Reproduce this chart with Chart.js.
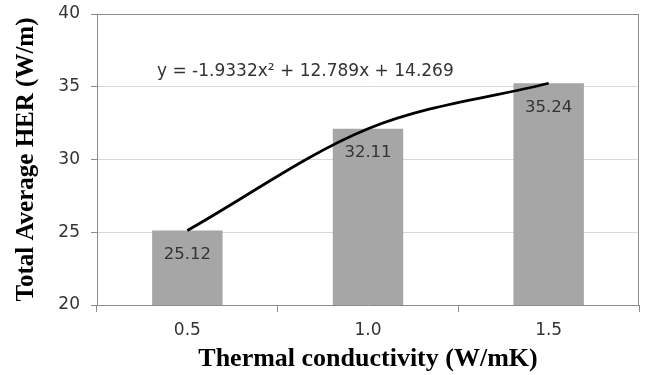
<!DOCTYPE html>
<html>
<head>
<meta charset="utf-8">
<script src="https://cdn.jsdelivr.net/npm/chart.js@4/dist/chart.umd.min.js"></script>
<style>
html,body{margin:0;padding:0;background:#fff;}
#wrap{width:647px;height:375px;position:relative;}
</style>
</head>
<body>
<div id="wrap"><canvas id="c" width="647" height="375"></canvas></div>
<script>
const categories = ["0.5", "1.0", "1.5"];
const herValues = [25.12, 32.11, 35.24];
const trendLabel = "y = -1.9332x\u00B2 + 12.789x + 14.269";
const yTicks = [20, 25, 30, 35, 40];
const xTitle = "Thermal conductivity (W/mK)";
const yTitle = "Total Average HER (W/m)";

const labelFont = "'DejaVu Sans', 'Noto Sans', sans-serif";
const titleFont = "'Liberation Serif', 'Times New Roman', serif";

const extras = {
  id: 'extras',
  beforeDatasetsDraw(chart) {
    const {ctx, chartArea: a} = chart;
    ctx.save();
    ctx.strokeStyle = '#8c8c8c';
    ctx.lineWidth = 1;
    ctx.beginPath();
    ctx.moveTo(a.left, a.top + 0.5);
    ctx.lineTo(a.right - 0.5, a.top + 0.5);
    ctx.lineTo(a.right - 0.5, a.bottom);
    ctx.stroke();
    ctx.restore();
  },
  afterDatasetsDraw(chart) {
    const {ctx} = chart;
    const meta = chart.getDatasetMeta(1);
    ctx.save();
    ctx.font = "16.5px " + labelFont;
    ctx.fillStyle = '#333333';
    ctx.textAlign = 'center';
    ctx.textBaseline = 'middle';
    meta.data.forEach((bar, i) => {
      ctx.fillText(herValues[i].toFixed(2), bar.x, bar.y + 24);
    });
    const xs = chart.scales.x, ys = chart.scales.y;
    ctx.font = "17px " + labelFont;
    ctx.textAlign = 'left';
    ctx.fillText(trendLabel, xs.left + 60, ys.getPixelForValue(36.02));
    ctx.restore();
  }
};

new Chart(document.getElementById('c'), {
  data: {
    labels: categories,
    datasets: [
      {
        type: 'line',
        data: herValues,
        borderColor: '#000000',
        borderWidth: 2.8,
        pointRadius: 0,
        cubicInterpolationMode: 'monotone',
        fill: false,
        order: 0
      },
      {
        type: 'bar',
        data: herValues,
        backgroundColor: '#a6a6a6',
        borderWidth: 0,
        categoryPercentage: 1,
        barPercentage: 0.39,
        order: 1
      }
    ]
  },
  options: {
    responsive: false,
    animation: false,
    devicePixelRatio: 1,
    layout: { padding: { top: 14, right: 8, left: 0, bottom: 0 } },
    plugins: { legend: { display: false }, tooltip: { enabled: false } },
    scales: {
      x: {
        type: 'category',
        offset: true,
        grid: { offset: true, drawOnChartArea: false, drawTicks: true, tickLength: 7, color: '#8c8c8c' },
        border: { display: true, color: '#8c8c8c' },
        ticks: { font: { family: labelFont, size: 17 }, color: '#333333', padding: 8 },
        title: { display: true, text: xTitle, font: { family: titleFont, size: 26, weight: 'bold' }, color: '#000', padding: { top: 0, bottom: 0 } },
        afterFit(s) { s.height = 70; s.paddingLeft = 0; s.paddingRight = 0; }
      },
      y: {
        min: 20, max: 40,
        afterBuildTicks(s) { s.ticks = yTicks.map(v => ({ value: v })); },
        grid: {
          color: (c) => c.tick && c.tick.value === 40 ? '#8c8c8c' : '#d9d9d9',
          tickColor: '#8c8c8c',
          drawTicks: true, tickLength: 6
        },
        border: { display: true, color: '#8c8c8c' },
        ticks: { font: { family: labelFont, size: 17 }, color: '#333333', padding: 11 },
        title: { display: true, text: yTitle, font: { family: titleFont, size: 25, weight: 'bold' }, color: '#000', padding: { top: 12, bottom: 0 } },
        afterFit(s) { s.width = 97; s.paddingTop = 0; s.paddingBottom = 0; }
      }
    }
  },
  plugins: [extras]
});
</script>
</body>
</html>
